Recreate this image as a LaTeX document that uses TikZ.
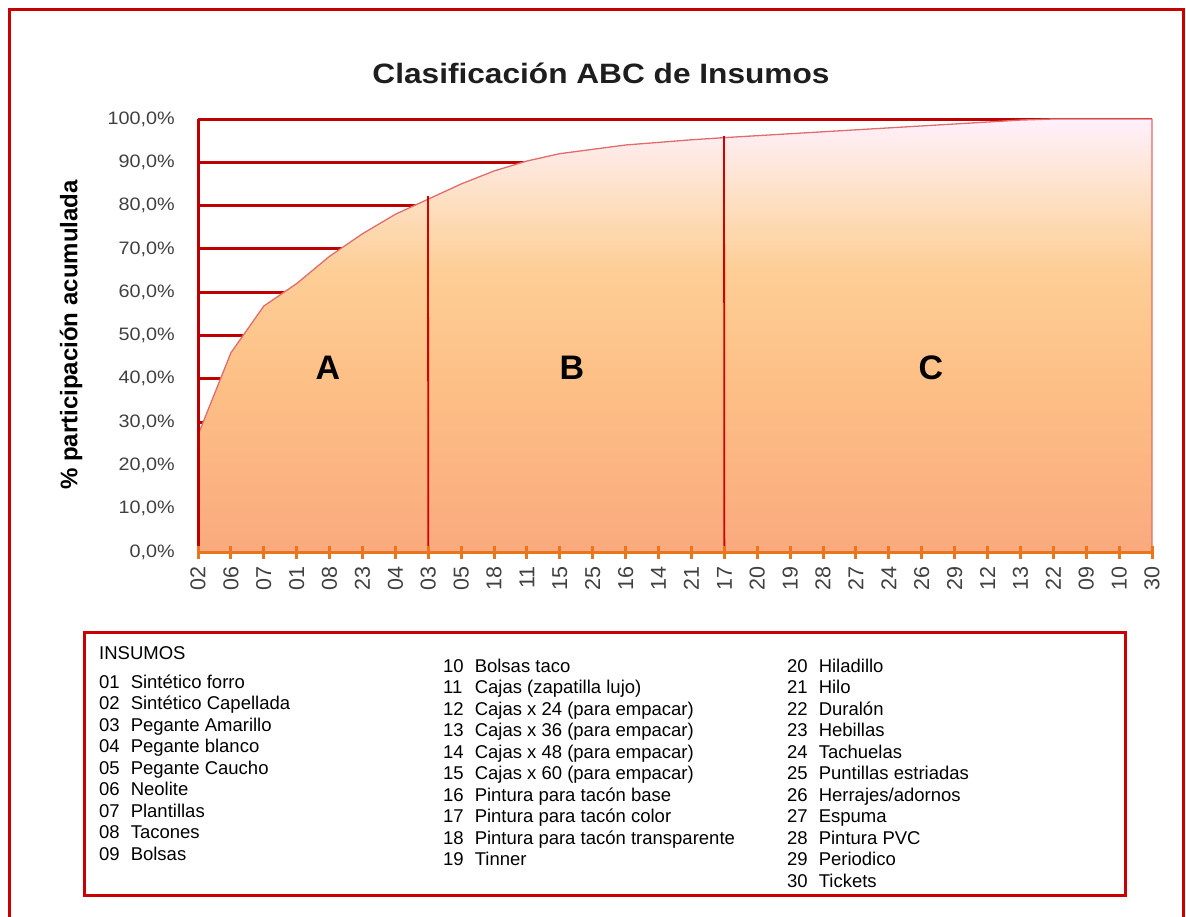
\documentclass[tikz,border=0pt]{standalone}
\usepackage{fontspec}
\setmainfont{Liberation Sans}
\definecolor{framered}{RGB}{200,0,0}
\definecolor{gridred}{RGB}{190,0,0}
\definecolor{axisorange}{RGB}{232,118,30}
\definecolor{curvepink}{RGB}{226,108,108}
\definecolor{dividerred}{RGB}{212,0,0}
\definecolor{ticktext}{RGB}{64,64,64}
\definecolor{titletext}{RGB}{30,30,30}
\definecolor{g0}{RGB}{250,170,126}
\definecolor{g1}{RGB}{253,192,134}
\definecolor{g2}{RGB}{253,206,150}
\definecolor{g3}{RGB}{253,222,190}
\definecolor{g4}{RGB}{255,240,252}
% fill of the cumulative area: the path box spans 25bp..75bp of the shading
\pgfdeclareverticalshading{abcfill}{100bp}{color(0bp)=(g0); color(25bp)=(g0); color(45bp)=(g1); color(57.5bp)=(g2); color(65bp)=(g3); color(75bp)=(g4); color(100bp)=(g4)}
\newcommand\setfs[2]{\fontsize{#1}{#2}\selectfont}
\begin{document}
\begin{tikzpicture}[x=1pt,y=-1pt,
  frame/.style={draw=framered,line width=3pt},
  gridline/.style={draw=gridred,line width=3pt},
  yaxisline/.style={draw=gridred,line width=3pt},
  xaxisline/.style={draw=axisorange,line width=3pt},
  xtickmark/.style={draw=axisorange,line width=3pt},
  divider/.style={draw=dividerred,line width=1.8pt},
  ylabel/.style={anchor=east,inner sep=0pt,text=ticktext,font=\setfs{18}{20},xscale=1.1},
  xlabel/.style={anchor=east,rotate=90,inner sep=0pt,text=ticktext,font=\setfs{21.5}{23}},
  zone/.style={font=\bfseries\setfs{34}{36},text=black,inner sep=0pt},
  legendcol/.style={anchor=base west,inner sep=0pt,font=\setfs{18.5}{21.5},text=black},
]
\useasboundingbox (0,0) rectangle (1186,916);
% outer frame
\draw[frame] (9.5,9.5) rectangle (1183.5,940);

% title and axis title
\node[font=\bfseries\setfs{28}{32},text=titletext,xscale=1.13] (title) at (601,73) {Clasificación ABC de Insumos};
\node[font=\bfseries\setfs{24}{26},rotate=90] (ytitle) at (71,335) {\% participación acumulada};

% horizontal gridlines and value labels
\foreach \k in {1,...,10}
  \draw[gridline] (198,552-43.3*\k) -- (1152,552-43.3*\k);
\foreach \k in {0,...,10}{
  \pgfmathtruncatemacro\pc{10*\k}
  \node[ylabel] (yl\k) at (175,552-43.3*\k) {\pc,0\%};
}

% category positions on the axis
\foreach \lab [count=\i from 0] in {02,06,07,01,08,23,04,03,05,18,11,15,25,16,14,21,17,20,19,28,27,24,26,29,12,13,22,09,10,30}{
  \pgfmathsetmacro\xx{198+32.897*\i}
  \coordinate (c\i) at (\xx,552);
  \node[xlabel] (xl\i) at (\xx,566) {\lab};
}
% cumulative percentages
\foreach \v [count=\i from 0] in {27,46,56.8,62,68.3,73.5,78,81.5,85,88,90.3,92,93,94,94.6,95.2,95.7,96.15,96.6,97.05,97.5,97.95,98.4,98.85,99.3,99.75,100,100,100,100}
  \coordinate (p\i) at (198+32.897*\i,552-4.33*\v);

% cumulative area
\shadedraw[shading=abcfill,draw=curvepink,line width=1.3pt,line join=round]
  (c0) -- (p0) \foreach \i in {1,...,29}{-- (p\i)} -- (c29) -- cycle;

% class boundaries
\coordinate (dA) at (428,196);
\coordinate (dB) at (724,136);
\draw[divider] (dA) -- (c7);
\draw[divider] (dB) -- (c16);

\node[zone] (zA) at (328,368) {A};
\node[zone] (zB) at (572,368) {B};
\node[zone] (zC) at (931,368) {C};

% axes
\coordinate (ytop) at (198,119);
\draw[yaxisline] (c0) -- (ytop);
\draw[xaxisline] (c0) -- (c29);
\foreach \i in {0,...,29}
  \draw[xtickmark] ([yshift=6.5pt]c\i) -- ([yshift=-6.5pt]c\i);

% legend
\draw[frame] (84,632) rectangle (1125,895);
\node[legendcol] (lhead) at (99,659) {INSUMOS};
\node[legendcol] (lcol1) at (99,688) {\begin{tabular}[t]{@{}l@{\hspace{11pt}}l@{}}
01 & Sintético forro\\
02 & Sintético Capellada\\
03 & Pegante Amarillo\\
04 & Pegante blanco\\
05 & Pegante Caucho\\
06 & Neolite\\
07 & Plantillas\\
08 & Tacones\\
09 & Bolsas
\end{tabular}};
\node[legendcol] (lcol2) at (443,672) {\begin{tabular}[t]{@{}l@{\hspace{11pt}}l@{}}
10 & Bolsas taco\\
11 & Cajas (zapatilla lujo)\\
12 & Cajas x 24 (para empacar)\\
13 & Cajas x 36 (para empacar)\\
14 & Cajas x 48 (para empacar)\\
15 & Cajas x 60 (para empacar)\\
16 & Pintura para tacón base\\
17 & Pintura para tacón color\\
18 & Pintura para tacón transparente\\
19 & Tinner
\end{tabular}};
\node[legendcol] (lcol3) at (787,672) {\begin{tabular}[t]{@{}l@{\hspace{11pt}}l@{}}
20 & Hiladillo\\
21 & Hilo\\
22 & Duralón\\
23 & Hebillas\\
24 & Tachuelas\\
25 & Puntillas estriadas\\
26 & Herrajes/adornos\\
27 & Espuma\\
28 & Pintura PVC\\
29 & Periodico\\
30 & Tickets
\end{tabular}};
\end{tikzpicture}
\end{document}
